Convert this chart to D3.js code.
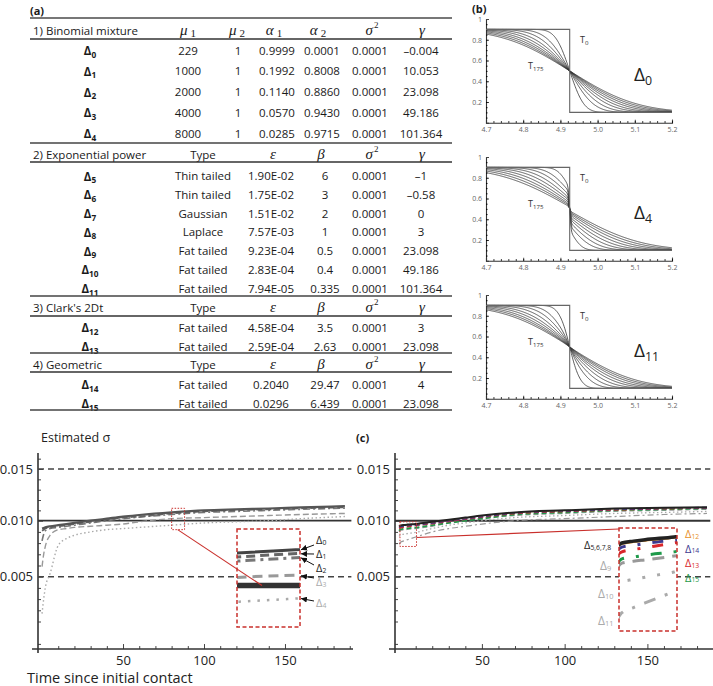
<!DOCTYPE html>
<html><head><meta charset="utf-8">
<script src="https://cdn.jsdelivr.net/npm/d3@7"></script>
<style>body{margin:0;background:#fff}</style>
</head><body>
<svg id="c" width="713" height="686" xmlns="http://www.w3.org/2000/svg"></svg>
<script>
// ---------------- DATA ----------------
// (a) table
const binomRows   = ["0","1","2","3","4"];
const binomMu1    = ["229","1000","2000","4000","8000"];
const binomMu2    = ["1","1","1","1","1"];
const binomAlpha1 = ["0.9999","0.1992","0.1140","0.0570","0.0285"];
const binomAlpha2 = ["0.0001","0.8008","0.8860","0.9430","0.9715"];
const binomSigma2 = ["0.0001","0.0001","0.0001","0.0001","0.0001"];
const binomGamma  = ["\u20130.004","10.053","23.098","49.186","101.364"];

const expRows   = ["5","6","7","8","9","10","11"];
const expType   = ["Thin tailed","Thin tailed","Gaussian","Laplace","Fat tailed","Fat tailed","Fat tailed"];
const expEps    = ["1.90E-02","1.75E-02","1.51E-02","7.57E-03","9.23E-04","2.83E-04","7.94E-05"];
const expBeta   = ["6","3","2","1","0.5","0.4","0.335"];
const expSigma2 = ["0.0001","0.0001","0.0001","0.0001","0.0001","0.0001","0.0001"];
const expGamma  = ["\u20131","\u20130.58","0","3","23.098","49.186","101.364"];

const clarkRows   = ["12","13"];
const clarkType   = ["Fat tailed","Fat tailed"];
const clarkEps    = ["4.58E-04","2.59E-04"];
const clarkBeta   = ["3.5","2.63"];
const clarkSigma2 = ["0.0001","0.0001"];
const clarkGamma  = ["3","23.098"];

const geoRows   = ["14","15"];
const geoType   = ["Fat tailed","Fat tailed"];
const geoEps    = ["0.2040","0.0296"];
const geoBeta   = ["29.47","6.439"];
const geoSigma2 = ["0.0001","0.0001"];
const geoGamma  = ["4","23.098"];

// (b) wave profiles: per-curve spread and share of non-dispersed (step) part
const bXTicks = [4.7,4.8,4.9,5.0,5.1,5.2];
const bYTicks = [0.2,0.4,0.6,0.8,1];
const bCenter = 4.925, bLow = 0.1, bHigh = 0.9;
const spreadD0  = [0.030,0.050,0.065,0.080,0.093,0.106,0.118,0.130,0.142];
const jumpD0    = [0,0,0,0,0,0,0,0,0];
const spreadD4  = [0.025,0.045,0.060,0.075,0.090,0.105,0.120,0.135,0.150];
const jumpD4    = [0.50,0.40,0.32,0.25,0.20,0.15,0.11,0.08,0.05];
const spreadD11 = [0.025,0.045,0.060,0.075,0.090,0.103,0.116,0.128,0.140];
const jumpD11   = [0.12,0.09,0.07,0.05,0.04,0.03,0.02,0.015,0.01];

// (c) estimated sigma over time
const sigmaTicks = [0.005,0.010,0.015];
const timeTicks  = [50,100,150];
const refLevels  = [0.015,0.010,0.005];

const tLeft   = [0,1,2,5,10,15,20,30,40,50,60,80,100,120,140,160,187];
const sigD0 = [0.0093,0.00935,0.0094,0.0095,0.0096,0.0097,0.0098,0.0100,0.0102,0.0104,0.01055,0.0108,0.0110,0.0111,0.01118,0.01128,0.0114];
const sigD1 = [0.0091,0.0092,0.0093,0.0094,0.0095,0.0096,0.0097,0.0099,0.0101,0.0103,0.0104,0.0107,0.0109,0.01103,0.0111,0.0112,0.0113];
const sigD2 = [0.0082,0.0088,0.0091,0.0093,0.0094,0.0095,0.0096,0.0098,0.0100,0.0102,0.01035,0.0106,0.0108,0.0109,0.0110,0.0111,0.01122];
const sigD3 = [0.0059,0.0070,0.0077,0.0087,0.0092,0.0093,0.0094,0.0095,0.0096,0.0097,0.0099,0.0102,0.0103,0.0104,0.0105,0.0106,0.0107];
const sigD4 = [0.0017,0.0030,0.0040,0.0053,0.0078,0.0084,0.0087,0.0090,0.0092,0.0093,0.0094,0.0096,0.0098,0.0099,0.0100,0.0102,0.0104];

const tRight = [0,1,3,5,10,20,30,40,50,70,100,130,160,186];
const sigD5678 = [0.0095,0.00958,0.00962,0.00965,0.00971,0.0099,0.0101,0.0103,0.0105,0.0108,0.0110,0.01117,0.01125,0.0113];
const sigD12 = [0.00948,0.00956,0.0096,0.00963,0.00969,0.00988,0.01008,0.01028,0.01048,0.01078,0.01098,0.01115,0.01123,0.01128];
const sigD14 = [0.0094,0.00949,0.00953,0.00957,0.00964,0.0098,0.0100,0.0102,0.0104,0.01075,0.01095,0.0111,0.0112,0.01127];
const sigD13 = [0.0093,0.00939,0.00944,0.00948,0.00958,0.00975,0.00995,0.01015,0.01035,0.0107,0.0109,0.01105,0.01117,0.01124];
const sigD15 = [0.0091,0.00924,0.00928,0.00932,0.00939,0.0096,0.0098,0.0100,0.0102,0.0106,0.0108,0.0110,0.0111,0.0112];
const sigD9  = [0.0090,0.00915,0.00919,0.00922,0.0093,0.0095,0.0098,0.0100,0.0102,0.0105,0.0107,0.0109,0.0110,0.0111];
const sigD10 = [0.0086,0.00875,0.0088,0.00885,0.00896,0.0093,0.0096,0.0098,0.0100,0.0103,0.0105,0.0107,0.0108,0.0109];
const sigD11 = [0.0079,0.00809,0.0082,0.0083,0.00854,0.0090,0.0093,0.0095,0.0097,0.0100,0.0102,0.0104,0.0106,0.0107];

// ---------------- DRAWING ----------------
const svg = d3.select("#c");
const SANS = "'Open Sans', sans-serif";
const SERIF = "'Liberation Serif', 'DejaVu Serif', serif";
svg.attr("font-family", SANS);

const defs = svg.append("defs");
defs.append("marker").attr("id","arr").attr("viewBox","0 0 10 10").attr("refX",10).attr("refY",5)
  .attr("markerWidth",6).attr("markerHeight",6).attr("orient","auto")
  .append("path").attr("d","M0,0L10,5L0,10z").attr("fill","#111");

function subText(g, x, y, main, sub, size, opts = {}) {
  const t = g.append("text").attr("x", x).attr("y", y)
    .attr("text-anchor", opts.anchor || "start")
    .attr("dominant-baseline", "central")
    .attr("font-size", size).attr("fill", opts.fill || "#1a1a1a")
    .attr("font-weight", opts.weight || "normal");
  t.append("tspan").text(main);
  t.append("tspan").attr("font-size", size * (opts.subScale || 0.68)).attr("dy", size * (opts.subDy || 0.32)).text(sub);
  return t;
}

// ===== (a) TABLE =====
const gA = svg.append("g").attr("fill", "#1a1a1a");
gA.append("text").attr("x", 30).attr("y", 10).attr("dominant-baseline","central")
  .attr("font-size", 11).attr("font-weight", "bold").text("(a)");

const ruleX0 = 30, ruleX1 = 452;
function rule(y, w, col) {
  gA.append("line").attr("x1", ruleX0).attr("x2", ruleX1).attr("y1", y).attr("y2", y)
    .attr("stroke", col || "#555").attr("stroke-width", w || 1.5);
}
function greek(x, y, sym, sub, sup) {
  const t = gA.append("text").attr("x", x).attr("y", y).attr("text-anchor", "middle")
    .attr("dominant-baseline", "central").attr("font-family", SERIF).attr("font-size", 15);
  t.append("tspan").attr("font-style", "italic").text(sym);
  if (sub) t.append("tspan").attr("font-size", 11).attr("dx", 3).attr("dy", 3).text(sub);
  if (sup) t.append("tspan").attr("font-size", 9).attr("dx", 1).attr("dy", -5).text(sup);
}
function cell(x, y, txt) {
  gA.append("text").attr("x", x).attr("y", y).attr("text-anchor", "middle")
    .attr("dominant-baseline", "central").attr("font-size", 11.5).text(txt);
}
function rowLabel(y, sub) {
  subText(gA, 90, y, "\u0394", sub, 11.5, { anchor: "middle", weight: "bold", subScale: 0.72 });
}
function sectionHeader(y, title, isBinom) {
  gA.append("text").attr("x", 33).attr("y", y).attr("dominant-baseline", "central")
    .attr("font-size", 11.5).text(title);
  if (isBinom) {
    greek(188, y, "\u03bc", "1"); greek(237, y, "\u03bc", "2");
    greek(274, y, "\u03b1", "1"); greek(318, y, "\u03b1", "2");
  } else {
    cell(203, y, "Type");
    greek(273, y, "\u03b5"); greek(321, y, "\u03b2");
  }
  greek(372, y, "\u03c3", null, "2");
  greek(422, y, "\u03b3");
}

// section 1
rule(18, 2, "#777");
sectionHeader(30, "1) Binomial mixture", true);
rule(39, 1.3, "#333");
const y1 = d3.scaleLinear().domain([0, 4]).range([50, 133]);
binomRows.forEach((r, i) => {
  const y = y1(i);
  rowLabel(y, r);
  cell(188, y, binomMu1[i]); cell(238, y, binomMu2[i]);
  cell(277, y, binomAlpha1[i]); cell(322, y, binomAlpha2[i]);
  cell(370, y, binomSigma2[i]); cell(421, y, binomGamma[i]);
});
rule(143, 1.6, "#444");

function typedSection(headerY, ruleTop, title, rows, type, eps, beta, sig, gam, firstY, step, ruleBottom) {
  sectionHeader(headerY, title, false);
  rule(ruleTop, 1.3, "#333");
  rows.forEach((r, i) => {
    const y = firstY + i * step;
    rowLabel(y, r);
    cell(203, y, type[i]); cell(271, y, eps[i]); cell(325, y, beta[i]);
    cell(370, y, sig[i]); cell(421, y, gam[i]);
  });
  rule(ruleBottom, 1.6, "#444");
}
typedSection(154, 162, "2) Exponential power", expRows, expType, expEps, expBeta, expSigma2, expGamma, 175.5, 18.75, 296);
typedSection(307, 316, "3) Clark's 2Dt", clarkRows, clarkType, clarkEps, clarkBeta, clarkSigma2, clarkGamma, 327, 19, 353);
typedSection(364, 372, "4) Geometric", geoRows, geoType, geoEps, geoBeta, geoSigma2, geoGamma, 384, 19, 410);

// ===== (b) PROFILES =====
svg.append("text").attr("x", 472).attr("y", 8).attr("dominant-baseline","central")
  .attr("font-size", 11).attr("font-weight", "bold").attr("fill","#1a1a1a").text("(b)");

function erf(x) {
  const s = Math.sign(x); x = Math.abs(x);
  const t = 1 / (1 + 0.3275911 * x);
  const y = 1 - (((((1.061405429 * t - 1.453152027) * t) + 1.421413741) * t - 0.284496736) * t + 0.254829592) * t * Math.exp(-x * x);
  return s * y;
}
const Phi = z => 0.5 * (1 + erf(z / Math.SQRT2));
const xB = d3.scaleLinear().domain([4.7, 5.2]).range([486, 672]);
const xsB = d3.range(4.7, 5.2001, 0.0015);

function profilePanel(top, spreads, jumps, narrow, sub) {
  const g = svg.append("g");
  const y = d3.scaleLinear().domain([0, 1]).range([top + 103.75, top]);
  const ax = g.append("g").attr("transform", `translate(0,${y(0)})`)
    .call(d3.axisBottom(xB).tickValues(bXTicks).tickFormat(d3.format(".1f")).tickSize(-3).tickPadding(4));
  g.append("g").attr("transform", `translate(0,${y(0)})`)
    .call(d3.axisBottom(xB).tickValues(d3.range(4.72, 5.2, 0.02)).tickFormat("").tickSize(-1.5))
    .call(s => s.select(".domain").remove());
  const ay = g.append("g").attr("transform", `translate(${xB(4.7)},0)`)
    .call(d3.axisLeft(y).tickValues(bYTicks).tickFormat(d => d === 1 ? "1" : d3.format(".1f")(d)).tickSize(-3).tickPadding(4));
  g.append("g").attr("transform", `translate(${xB(4.7)},0)`)
    .call(d3.axisLeft(y).tickValues(d3.range(0.05, 1, 0.05)).tickFormat("").tickSize(-1.5))
    .call(s => s.select(".domain").remove());
  [ax, ay].forEach(a => {
    a.selectAll("text").attr("font-size", 7).attr("fill", "#666").attr("font-family", SANS);
    a.selectAll("line").attr("stroke", "#444");
    a.select(".domain").attr("stroke", "#333").attr("stroke-width", 1.1);
  });
  const line = d3.line().x(d => xB(d[0])).y(d => y(d[1]));
  spreads.forEach((s, i) => {
    const w = jumps[i];
    const pts = xsB.map(x => [x, bLow + (bHigh - bLow) * (w * Phi((bCenter - x) / narrow) + (1 - w) * Phi((bCenter - x) / s))]);
    g.append("path").attr("d", line(pts)).attr("fill", "none").attr("stroke", "#333").attr("stroke-width", 0.8);
  });
  g.append("path").attr("d", line([[4.7, bHigh], [bCenter, bHigh], [bCenter, bLow], [5.2, bLow]]))
    .attr("fill", "none").attr("stroke", "#666").attr("stroke-width", 1.1);
  subText(g, 580, top + 20, "T", "0", 9, { fill: "#333" });
  subText(g, 528, top + 46, "T", "175", 9, { fill: "#333" });
  subText(g, 634, top + 55, "\u0394", sub, 19, { fill: "#222", subScale: 0.65 });
}
profilePanel(19, spreadD0, jumpD0, 0.003, "0");
profilePanel(157, spreadD4, jumpD4, 0.003, "4");
profilePanel(295, spreadD11, jumpD11, 0.012, "11");

// ===== (c) SIGMA CHARTS =====
const ySig = () => d3.scaleLinear().domain([0.015, 0.010, 0.005]).range([469, 520.7, 576.7]);
const sigMin = -0.00146, sigMax = 0.01655;

function sigmaAxes(g, x, y, axisX, tMin, tMax) {
  const ax = g.append("g").attr("transform", `translate(0,${y(sigMin)})`)
    .call(d3.axisBottom(x).tickValues(timeTicks).tickSize(-5).tickPadding(7));
  g.append("g").attr("transform", `translate(0,${y(sigMin)})`)
    .call(d3.axisBottom(x).tickValues(d3.range(10, tMax, 10).filter(v => v % 50)).tickFormat("").tickSize(-3))
    .call(s => s.select(".domain").remove());
  ax.select(".domain").remove();
  g.append("line").attr("x1", x(tMin) - 6).attr("x2", x(tMax)).attr("y1", y(sigMin)).attr("y2", y(sigMin))
    .attr("stroke", "#333").attr("stroke-width", 1.6);
  const ay = g.append("g").attr("transform", `translate(${axisX},0)`)
    .call(d3.axisLeft(y).tickValues(sigmaTicks).tickFormat(d3.format(".3f")).tickSize(-5).tickPadding(5));
  ay.select(".domain").remove();
  g.append("g").attr("transform", `translate(${axisX},0)`)
    .call(d3.axisLeft(y).tickValues(d3.range(-0.001, 0.0165, 0.001).filter(v => Math.abs(v * 200 - Math.round(v * 200)) > 1e-6)).tickFormat("").tickSize(-3))
    .call(s => s.select(".domain").remove());
  g.append("line").attr("x1", axisX).attr("x2", axisX).attr("y1", y(sigMin) + 4).attr("y2", y(sigMax))
    .attr("stroke", "#333").attr("stroke-width", 1.6);
  [ax, ay].forEach(a => {
    a.selectAll("text").attr("font-size", 13).attr("fill", "#222").attr("font-family", SANS);
  });
  g.selectAll(".tick line").attr("stroke", "#444");
}

function refLines(g, x, y, tMin, tMax, sw) {
  refLevels.forEach(v => {
    g.append("line").attr("x1", x(tMin)).attr("x2", x(tMax)).attr("y1", y(v)).attr("y2", y(v))
      .attr("stroke", v === 0.010 ? "#333" : "#444").attr("stroke-width", v === 0.010 ? (sw || 1.8) : 1.4)
      .attr("stroke-dasharray", v === 0.010 ? null : "6,4");
  });
}

function drawSeries(g, x, y, t, series, clip) {
  const line = d3.line().x(d => x(d[0])).y(d => y(d[1])).curve(d3.curveMonotoneX);
  series.forEach(s => {
    g.append("path").attr("d", line(t.map((tt, i) => [tt, s.v[i]])))
      .attr("fill", "none").attr("stroke", s.c).attr("stroke-width", s.w)
      .attr("stroke-dasharray", s.d).attr("stroke-linecap", s.cap || "butt")
      .attr("clip-path", clip || null);
  });
}
function valueAt(t, v, tt) {
  const i = Math.min(d3.bisectRight(t, tt), t.length - 1);
  const f = (tt - t[i - 1]) / (t[i] - t[i - 1]);
  return v[i - 1] + f * (v[i] - v[i - 1]);
}
const RED = "#c9302c";
const LAB = { subScale: 0.62, subDy: 0.25 };

// ---- left chart ----
{
  const g = svg.append("g");
  const x = d3.scaleLinear().domain([-2.5, 192]).range([38, 353]);
  const y = ySig();
  g.append("text").attr("x", 41).attr("y", 437).attr("dominant-baseline", "central")
    .attr("font-size", 12.5).attr("fill", "#222").text("Estimated \u03c3");
  g.append("text").attr("x", 27).attr("y", 677).attr("dominant-baseline", "central")
    .attr("font-size", 14.5).attr("fill", "#222").text("Time since initial contact");
  sigmaAxes(g, x, y, 38, -2.5, 192);
  refLines(g, x, y, -2.5, 191);
  const series = [
    { v: sigD4, c: "#aaa", w: 1.4, d: "1.5,2.5" },
    { v: sigD3, c: "#999", w: 1.4, d: "6,3" },
    { v: sigD2, c: "#777", w: 1.6, d: "7,3,2,3" },
    { v: sigD1, c: "#666", w: 1.8, d: "6,3" },
    { v: sigD0, c: "#555", w: 2.2, d: null }
  ];
  drawSeries(g, x, y, tLeft, series);

  const zt = [80, 88], zv = [0.0112, 0.0092];
  g.append("rect").attr("x", x(zt[0])).attr("y", y(zv[0])).attr("width", x(zt[1]) - x(zt[0]))
    .attr("height", y(zv[1]) - y(zv[0])).attr("fill", "none").attr("stroke", RED)
    .attr("stroke-width", 1).attr("stroke-dasharray", "1.5,1.5");
  const ix = d3.scaleLinear().domain(zt).range([237, 300]);
  const iy = d3.scaleLinear().domain([0.01139, 0.00898]).range([529, 627]);
  defs.append("clipPath").attr("id", "clipL").append("rect")
    .attr("x", 237).attr("y", 529).attr("width", 63).attr("height", 98);
  const gi = g.append("g");
  gi.append("rect").attr("x", 237).attr("y", 529).attr("width", 63).attr("height", 98).attr("fill", "#fff");
  gi.append("line").attr("x1", ix(zt[0])).attr("x2", ix(zt[1])).attr("y1", iy(0.010)).attr("y2", iy(0.010))
    .attr("stroke", "#333").attr("stroke-width", 5.5).attr("clip-path", "url(#clipL)");
  drawSeries(gi, ix, iy, tLeft, [
    { v: sigD4, c: "#aaa", w: 2.5, d: "2.5,7", cap: "butt" },
    { v: sigD3, c: "#999", w: 3, d: "10,6" },
    { v: sigD2, c: "#777", w: 3, d: "10,5,3,5" },
    { v: sigD1, c: "#666", w: 3, d: "9,5" },
    { v: sigD0, c: "#444", w: 3, d: null }
  ], "url(#clipL)");
  g.append("line").attr("x1", x(zt[0]) + 6).attr("y1", y(zv[1])).attr("x2", 262).attr("y2", iy(0.010))
    .attr("stroke", RED).attr("stroke-width", 1.1);
  gi.append("rect").attr("x", 237).attr("y", 529).attr("width", 63).attr("height", 98)
    .attr("fill", "none").attr("stroke", RED).attr("stroke-width", 1.5).attr("stroke-dasharray", "4,2.5");
  const labs = [
    { s: "0", v: sigD0, ly: 539, c: "#222", dy: 5 },
    { s: "1", v: sigD1, ly: 553, c: "#222", dy: 0 },
    { s: "2", v: sigD2, ly: 567, c: "#222", dy: -3 },
    { s: "3", v: sigD3, ly: 581, c: "#aaa", dy: -4 },
    { s: "4", v: sigD4, ly: 602, c: "#aaa", dy: -2 }
  ];
  labs.forEach(l => {
    subText(g, 316, l.ly, "\u0394", l.s, 11, Object.assign({ fill: l.c }, LAB));
    g.append("line").attr("x1", 314).attr("y1", l.ly + l.dy + 1).attr("x2", ix(zt[1]) + 1)
      .attr("y2", iy(valueAt(tLeft, l.v, zt[1])))
      .attr("stroke", "#111").attr("stroke-width", 1).attr("marker-end", "url(#arr)");
  });
}

// ---- right chart ----
{
  const g = svg.append("g");
  const x = d3.scaleLinear().domain([-2.5, 190]).range([395, 713.6]);
  const y = ySig();
  g.append("text").attr("x", 356).attr("y", 437).attr("dominant-baseline", "central")
    .attr("font-size", 11).attr("font-weight", "bold").attr("fill", "#1a1a1a").text("(c)");
  sigmaAxes(g, x, y, 395, -2.5, 190);
  refLines(g, x, y, -2.5, 188, 2);
  const main = [
    { v: sigD11, c: "#999", w: 1.2, d: "6,3,2,3" },
    { v: sigD10, c: "#aaa", w: 1.3, d: "1.5,2.5" },
    { v: sigD9, c: "#999", w: 1.2, d: "5,3" },
    { v: sigD15, c: "#1e9a4a", w: 1.8, d: "5,3" },
    { v: sigD13, c: "#d9262b", w: 1.8, d: "5,3" },
    { v: sigD14, c: "#3d3a8f", w: 1.8, d: "5,3" },
    { v: sigD12, c: "#e8912a", w: 1.0, d: null },
    { v: sigD5678, c: "#222", w: 2.0, d: null }
  ];
  drawSeries(g, x, y, tRight, main);

  const zt = [0.5, 10.5], zv = [0.0099, 0.0077];
  g.append("rect").attr("x", x(zt[0])).attr("y", y(zv[0])).attr("width", x(zt[1]) - x(zt[0]))
    .attr("height", y(zv[1]) - y(zv[0])).attr("fill", "none").attr("stroke", RED)
    .attr("stroke-width", 1).attr("stroke-dasharray", "1.5,1.5");
  const ix = d3.scaleLinear().domain(zt).range([619, 677]);
  const iy = d3.scaleLinear().domain(zv).range([528, 631]);
  defs.append("clipPath").attr("id", "clipR").append("rect")
    .attr("x", 619).attr("y", 528).attr("width", 58).attr("height", 103);
  g.append("line").attr("x1", x(zt[1])).attr("y1", y(0.0085)).attr("x2", 619).attr("y2", 529)
    .attr("stroke", RED).attr("stroke-width", 1.1);
  const gi = g.append("g");
  gi.append("rect").attr("x", 619).attr("y", 528).attr("width", 58).attr("height", 103).attr("fill", "#fff");
  drawSeries(gi, ix, iy, tRight, [
    { v: sigD11, c: "#aaa", w: 3, d: "12,10,3,10" },
    { v: sigD10, c: "#aaa", w: 3, d: "3,12" },
    { v: sigD9, c: "#999", w: 3, d: "12,8" },
    { v: sigD15, c: "#1e9a4a", w: 3, d: "11,12,3,12" },
    { v: sigD13, c: "#d9262b", w: 3, d: "11,12,3,12" },
    { v: sigD14, c: "#3d3a8f", w: 3, d: "11,12,3,12" },
    { v: sigD12, c: "#e8912a", w: 2, d: null },
    { v: sigD5678, c: "#222", w: 3.5, d: null }
  ], "url(#clipR)");
  gi.append("rect").attr("x", 619).attr("y", 528).attr("width", 58).attr("height", 103)
    .attr("fill", "none").attr("stroke", RED).attr("stroke-width", 1.5).attr("stroke-dasharray", "4,2.5");
  subText(g, 584, 544, "\u0394", "5,6,7,8", 11, Object.assign({ fill: "#222" }, LAB));
  subText(g, 600, 565, "\u0394", "9", 12, Object.assign({ fill: "#aaa" }, LAB));
  subText(g, 598, 593, "\u0394", "10", 12, Object.assign({ fill: "#aaa" }, LAB));
  subText(g, 598, 620, "\u0394", "11", 12, Object.assign({ fill: "#aaa" }, LAB));
  subText(g, 685, 533, "\u0394", "12", 11, Object.assign({ fill: "#e8912a" }, LAB));
  subText(g, 685, 547.5, "\u0394", "14", 11, Object.assign({ fill: "#3d3a8f" }, LAB));
  subText(g, 685, 562, "\u0394", "13", 11, Object.assign({ fill: "#d9262b" }, LAB));
  subText(g, 685, 576.5, "\u0394", "15", 11, Object.assign({ fill: "#1e9a4a" }, LAB));
}
</script>
</body></html>
